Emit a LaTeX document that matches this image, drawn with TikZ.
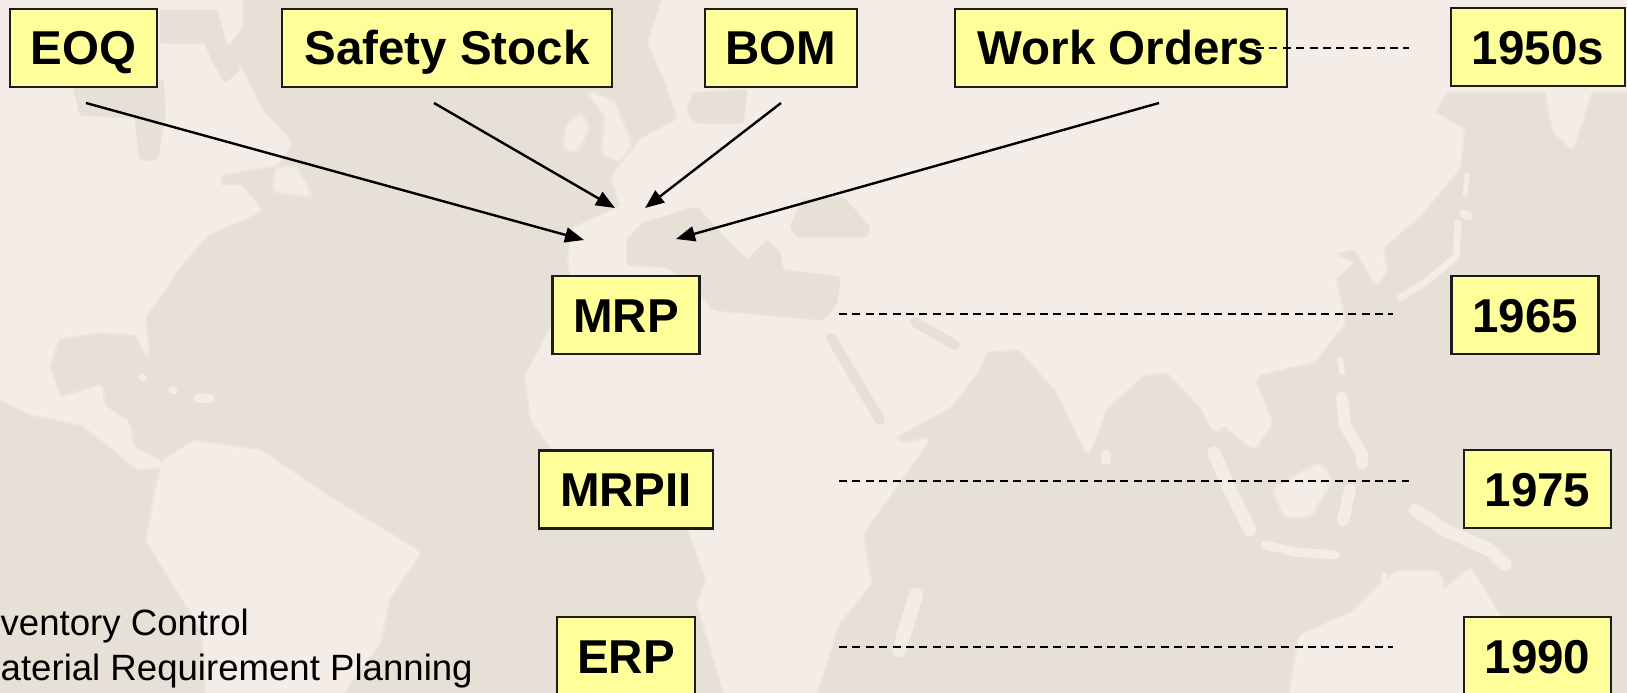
\documentclass[tikz,border=0pt]{standalone}
\usepackage{fontspec}
\setmainfont{Liberation Sans}
\usetikzlibrary{arrows.meta}
\definecolor{sea}{HTML}{E7E0D6}
\definecolor{land}{HTML}{F4ECE7}
\definecolor{glow}{HTML}{F5EEE7}
\definecolor{boxfill}{HTML}{FFFF99}
\definecolor{boxline}{HTML}{1C1C1C}
\tikzset{
  x=1pt,y=-1pt,
  landmass/.style={fill=land,rounded corners=3pt,draw=glow,line width=3pt,
    preaction={draw=glow,draw opacity=.45,line width=7pt}},
  water/.style={fill=sea,draw=sea,draw opacity=.5,line width=2pt,rounded corners=3pt},
  waterline/.style={draw=sea,line cap=round,line join=round},
  isle/.style={draw=land,line cap=round,line join=round},
  databox/.style={draw=boxline,fill=boxfill,line width=2.1pt,inner sep=0pt,
    minimum height=78pt,text height=34pt,text depth=0pt,align=center,
    font=\fontsize{47.5pt}{50pt}\selectfont\bfseries},
  feeder/.style={line width=2.4pt,draw=black,-{Triangle[length=19pt,width=15pt]}},
  timeline/.style={line width=1.6pt,draw=black,dash pattern=on 8pt off 5.4pt},
  legend/.style={font=\fontsize{36.6pt}{40pt}\selectfont,inner sep=0pt,anchor=base west}
}
\begin{document}
\begin{tikzpicture}
\useasboundingbox (0,0) rectangle (1627,693);
\clip (0,0) rectangle (1627,693);
\fill[sea] (0,0) rectangle (1627,693);
% North America
\path[landmass] (-9,-9) -- (240,-9) -- (240,27) -- (222,50) -- (240,70) -- (260,110) -- (290,143) -- (277,163) -- (220,173) -- (217,187) -- (240,187) -- (260,210) -- (237,220) -- (207,233) -- (177,267) -- (163,290) -- (143,317) -- (147,353) -- (137,333) -- (100,330) -- (57,337) -- (47,367) -- (60,400) -- (100,387) -- (103,407) -- (127,423) -- (133,450) -- (157,460) -- (160,466) -- (137,467) -- (113,447) -- (83,423) -- (33,413) -- (-9,393) -- cycle;
\path[water] (72,80) -- (163,80) -- (165,115) -- (157,160) -- (140,160) -- (135,118) -- (80,115) -- cycle;
\path[water] (160,10) -- (217,10) -- (225,40) -- (240,70) -- (225,83) -- (212,60) -- (205,43) -- (160,43) -- cycle;
% Newfoundland and Caribbean
\path[landmass,line width=1.5pt] (277,170) -- (295,168) -- (310,195) -- (275,190) -- cycle;
\draw[isle,line width=7pt] (142,377) -- (143,378);
\draw[isle,line width=7pt] (172,390) -- (174,391);
\draw[isle,line width=9pt] (198,398) -- (210,399);
% South America
\path[landmass] (163,463) -- (194,443) -- (260,452) -- (326,497) -- (418,553) -- (388,597) -- (378,643) -- (332,705) -- (209,705) -- (204,630) -- (148,540) -- cycle;
% Old world
\path[landmass] (667,-9) -- (650,43) -- (667,80) -- (680,120) -- (643,140) -- (613,177) -- (623,207) -- (573,230) -- (570,263) -- (573,275) -- (550,333) -- (527,377) -- (533,420) -- (571,473) -- (689,527) -- (709,580) -- (699,603) -- (730,705) -- (811,705) -- (837,623) -- (869,583) -- (861,533) -- (927,440) -- (905,445) -- (890,438) -- (950,405) -- (977,370) -- (985,350) -- (1020,347) -- (1058,390) -- (1088,452) -- (1105,407) -- (1143,373) -- (1168,370) -- (1203,407) -- (1215,430) -- (1224,423) -- (1254,447) -- (1270,423) -- (1254,383) -- (1258,373) -- (1313,360) -- (1343,323) -- (1334,277) -- (1351,263) -- (1326,253) -- (1356,247) -- (1377,283) -- (1385,270) -- (1381,247) -- (1420,213) -- (1458,167) -- (1462,130) -- (1432,113) -- (1445,90) -- (1547,90) -- (1555,130) -- (1572,147) -- (1590,90) -- (1640,90) -- (1640,-9) -- cycle;
% Inner seas
\path[water] (643,223) -- (697,207) -- (720,233) -- (747,260) -- (767,240) -- (780,253) -- (783,270) -- (840,277) -- (837,303) -- (823,320) -- (713,310) -- (700,293) -- (667,267) -- (627,265) -- (627,240) -- cycle;
\path[water] (790,227) -- (803,200) -- (843,197) -- (870,227) -- (867,237) -- (797,237) -- cycle;
\path[water] (687,113) -- (693,93) -- (747,90) -- (743,123) -- (697,123) -- cycle;
\draw[waterline,line width=10pt] (831,338) -- (880,420);
\draw[waterline,line width=10pt] (915,322) -- (955,345);
% Britain and Ireland
\path[landmass,line width=1.5pt] (590,93) -- (613,103) -- (630,143) -- (620,160) -- (603,153) -- (607,117) -- cycle;
\path[landmass,line width=1.5pt] (580,115) -- (587,127) -- (577,150) -- (565,147) -- (568,127) -- cycle;
% Madagascar, Sri Lanka
\draw[isle,line width=14pt] (916,595) -- (899,650);
\draw[isle,line width=10pt] (1106,454) -- (1106,460);
% Japan and neighbours
\draw[isle,line width=7pt] (1400,298) -- (1428,280) -- (1456,257) -- (1458,223);
\draw[isle,line width=9pt] (1464,214) -- (1468,216);
\draw[isle,line width=5pt] (1467,175) -- (1465,195);
\draw[isle,line width=6pt] (1340,360) -- (1342,372);
% Philippines
\draw[isle,line width=12pt] (1342,398) -- (1345,425) -- (1362,455) -- (1362,463);
% Indonesia
\draw[isle,line width=13pt] (1214,453) -- (1230,490) -- (1250,530);
\path[landmass,line width=1.5pt] (1320,465) -- (1330,480) -- (1310,515) -- (1285,515) -- (1275,490) -- (1300,475) -- cycle;
\draw[isle,line width=12pt] (1350,490) -- (1343,520);
\draw[isle,line width=9pt] (1265,545) -- (1295,552) -- (1335,555);
\draw[isle,line width=6pt] (1384,575) -- (1384,590);
\draw[isle,line width=13pt] (1415,510) -- (1445,530) -- (1490,550) -- (1505,565);
% Australia
\path[landmass] (1354,613) -- (1396,573) -- (1438,573) -- (1443,593) -- (1470,570) -- (1496,613) -- (1575,705) -- (1290,705) -- (1301,637) -- cycle;
% Boxes
\node[databox,minimum width=147pt] (eoq) at (83.5,48) {EOQ};
\node[databox,minimum width=330pt] (safety) at (447,48) {Safety Stock};
\node[databox,minimum width=152pt] (bom) at (781,48) {BOM};
\node[databox,minimum width=332pt] (work) at (1121,48) {Work Orders};
\node[databox,minimum width=174pt] (y50) at (1538,47) {1950s};
\node[databox,minimum width=147pt] (mrp) at (626,315) {MRP};
\node[databox,minimum width=147pt] (y65) at (1525,315) {1965};
\node[databox,minimum width=174pt] (mrpii) at (626,489.5) {MRPII};
\node[databox,minimum width=147pt] (y75) at (1537.5,489) {1975};
\node[databox,minimum width=138pt] (erp) at (626,656) {ERP};
\node[databox,minimum width=147pt] (y90) at (1537.5,656) {1990};
\node[legend] (l1) at (0.5,635) {ventory Control};
\node[legend] (l2) at (0.5,680) {aterial Requirement Planning};
% Connector ends
\coordinate (eoqout) at (86,103);
\coordinate (safeout) at (434,103);
\coordinate (bomout) at (781,103);
\coordinate (workout) at (1159,103);
\coordinate (tipa) at (584,240);
\coordinate (tipb) at (615,208);
\coordinate (tipc) at (645,208);
\coordinate (tipd) at (676,239);
\draw[feeder] (eoqout) -- (tipa);
\draw[feeder] (safeout) -- (tipb);
\draw[feeder] (bomout) -- (tipc);
\draw[feeder] (workout) -- (tipd);
\coordinate (d1a) at (1256,48);
\coordinate (d1b) at (1409,48);
\coordinate (d2a) at (839,314);
\coordinate (d2b) at (1393,314);
\coordinate (d3a) at (839,481);
\coordinate (d3b) at (1409,481);
\coordinate (d4a) at (839,647);
\coordinate (d4b) at (1393,647);
\draw[timeline] (d1a) -- (d1b);
\draw[timeline] (d2a) -- (d2b);
\draw[timeline] (d3a) -- (d3b);
\draw[timeline] (d4a) -- (d4b);
\end{tikzpicture}
\end{document}
